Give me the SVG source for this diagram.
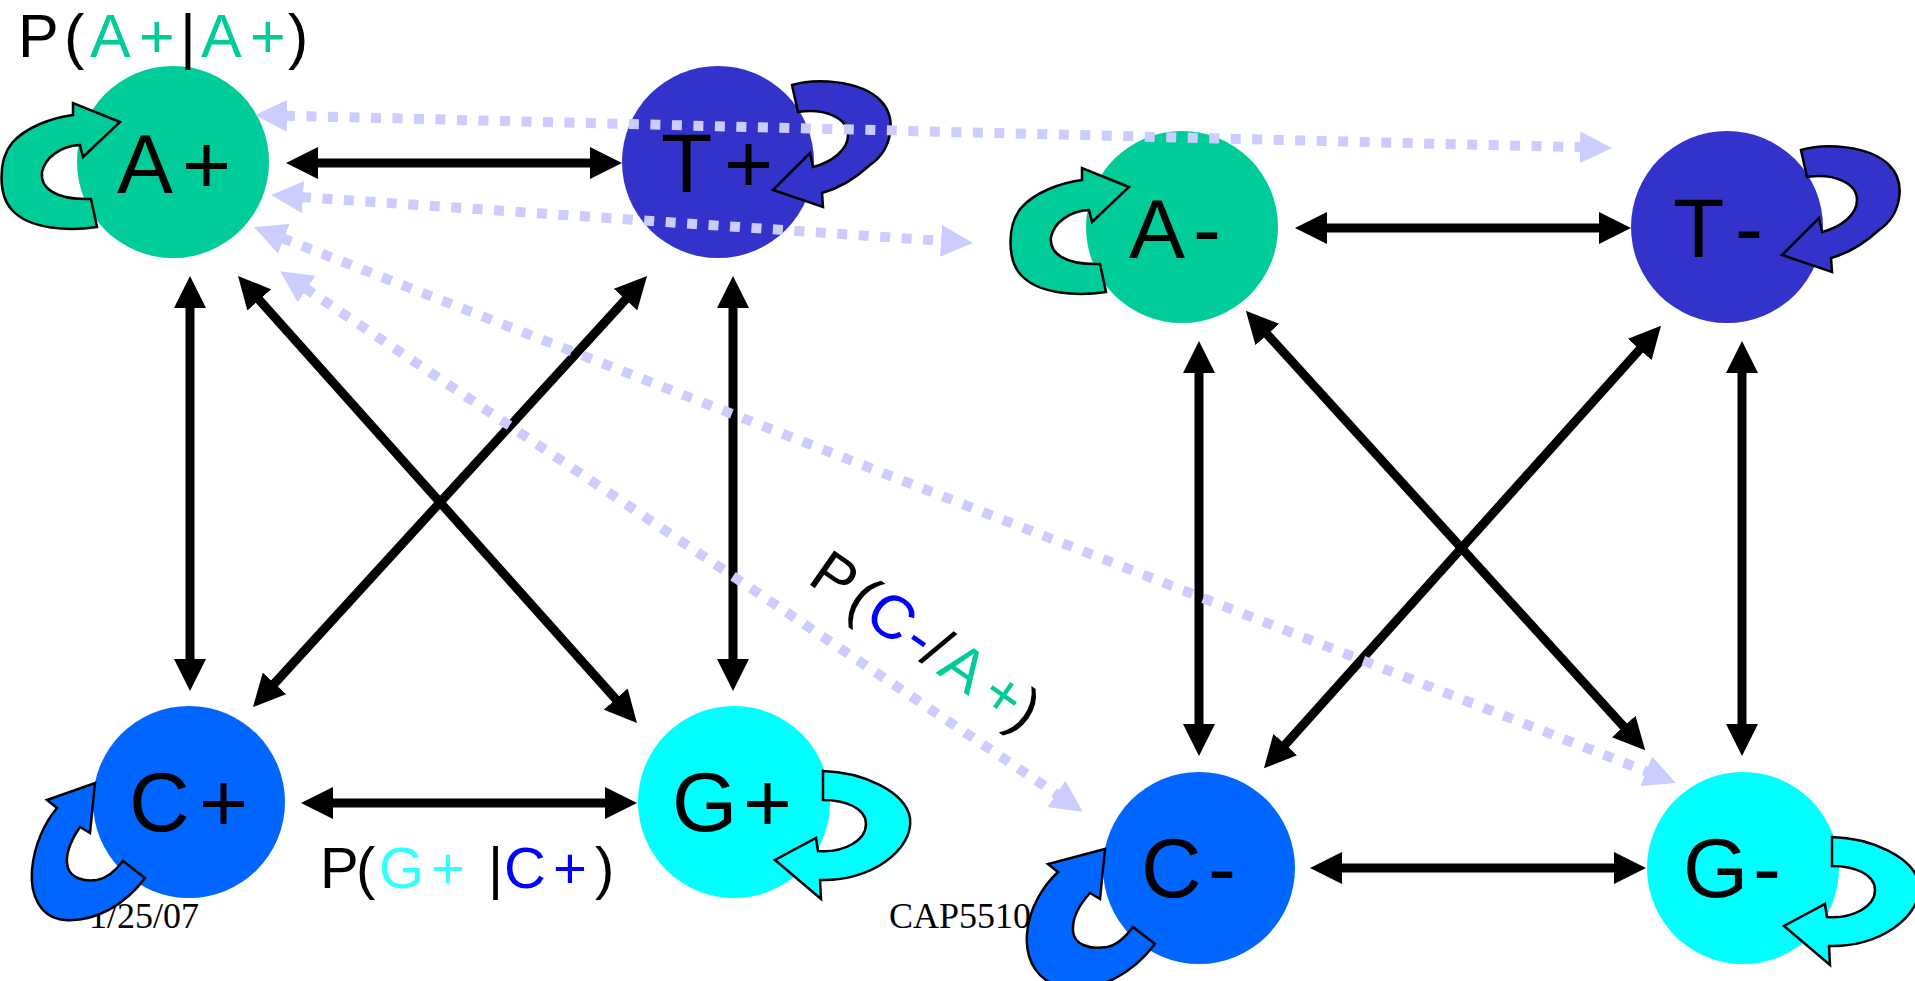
<svg xmlns="http://www.w3.org/2000/svg" width="1915" height="981" viewBox="0 0 1915 981">
<defs>
<style>
.lbl{font-family:"Liberation Sans",Arial,sans-serif;font-size:84px;fill:#000}
.plbl{font-family:"Liberation Sans",Arial,sans-serif;fill:#000}
.foot{font-family:"Liberation Serif","Times New Roman",serif;font-size:36px;fill:#000}
.loop{stroke:#000;stroke-width:2.5;stroke-linejoin:miter}
.blk{stroke:#000;stroke-width:9;fill:none;marker-start:url(#ab);marker-end:url(#ab)}
.dot{stroke:#ccccff;stroke-width:10;fill:none;stroke-dasharray:10 11.5;marker-start:url(#ad);marker-end:url(#ad)}
.cA{fill:#00cc99}.cT{fill:#3333cc}.cC{fill:#0066ff}.cG{fill:#00ffff}
</style>
<marker id="ab" markerUnits="userSpaceOnUse" markerWidth="32" markerHeight="32" viewBox="0 0 32 32" refX="2" refY="16" orient="auto-start-reverse"><path d="M0,0 L32,16 L0,32 Z" fill="#000"/></marker>
<marker id="ad" markerUnits="userSpaceOnUse" markerWidth="32" markerHeight="32" viewBox="0 0 32 32" refX="2" refY="16" orient="auto-start-reverse"><path d="M0,0 L32,16 L0,32 Z" fill="#ccccff"/></marker>
<path id="loopA" d="M97,227 C70,231 30,230 12,210 C-2,195 -2,160 12,143 C25,128 50,118 73,115 L73,103 L120,122 L83,157 L80,145 C60,146 45,158 42,172 C40,188 55,200 91,199 Z"/>
<path id="loopT" d="M792,85 C815,78 860,80 880,100 C898,118 892,150 870,165 C858,176 840,188 822,193 L823,207 L773,190 L810,153 L813,167 C832,162 848,150 848,135 C848,118 825,108 798,112 Z"/>
<path id="loopC" d="M145,878 C125,905 95,922 65,920 C40,918 30,895 32,870 C34,845 45,822 57,808 L47,800 L95,783 L90,833 L80,827 C72,838 66,852 67,863 C68,876 80,882 97,880 C108,878 117,869 123,861 Z"/>
<path id="loopCm" d="M145,878 C122,908 90,925 58,922 C28,918 15,895 17,868 C19,842 33,820 48,806 L38,798 L95,783 L90,833 L80,827 C70,838 62,852 63,865 C64,878 78,884 97,881 C108,879 117,869 123,861 Z"/>
<path id="loopG" d="M823,771 C860,772 905,790 910,818 C914,850 870,882 820,880 L821,899 L775,860 L816,838 L818,851 C845,853 866,840 866,824 C866,808 845,800 823,800 Z"/>
</defs>
<rect width="1915" height="981" fill="#fff"/>

<g id="footer">
<text class="foot" x="89" y="928">1/25/07</text>
<text class="foot" x="889" y="928">CAP5510</text>
</g>

<g id="node-A-plus">
<circle class="cA" cx="173" cy="162" r="96"/>
<use href="#loopA" class="loop cA"/>
<text class="lbl" x="117" y="193">A<tspan x="182">+</tspan></text>
</g>
<g id="node-T-plus">
<circle class="cT" cx="718" cy="162" r="96"/>
<use href="#loopT" class="loop cT"/>
<text class="lbl" x="661" y="192">T<tspan x="724">+</tspan></text>
</g>
<g id="node-C-plus">
<circle class="cC" cx="189" cy="802" r="96"/>
<use href="#loopC" class="loop cC"/>
<text class="lbl" x="129" y="831">C<tspan x="199">+</tspan></text>
</g>
<g id="node-G-plus">
<circle class="cG" cx="734" cy="802" r="96"/>
<use href="#loopG" class="loop cG"/>
<text class="lbl" x="672" y="831">G<tspan x="743">+</tspan></text>
</g>

<g id="node-A-minus" transform="translate(1009,65)">
<circle class="cA" cx="173" cy="162" r="96"/>
<use href="#loopA" class="loop cA"/>
<text class="lbl" x="120" y="193">A<tspan x="184">-</tspan></text>
</g>
<g id="node-T-minus" transform="translate(1009,65)">
<circle class="cT" cx="718" cy="162" r="96"/>
<use href="#loopT" class="loop cT"/>
<text class="lbl" x="664" y="192">T<tspan x="726">-</tspan></text>
</g>
<g id="node-C-minus" transform="translate(1010,66)">
<circle class="cC" cx="189" cy="802" r="96"/>
<use href="#loopCm" class="loop cC"/>
<text class="lbl" x="131" y="831">C<tspan x="198">-</tspan></text>
</g>
<g id="node-G-minus" transform="translate(1009,66)">
<circle class="cG" cx="734" cy="802" r="96"/>
<use href="#loopG" class="loop cG"/>
<text class="lbl" x="674" y="831">G<tspan x="744">-</tspan></text>
</g>

<g id="connectors">
<line class="blk" x1="316" y1="163" x2="592" y2="163"/>
<line class="blk" x1="331" y1="803" x2="607" y2="803"/>
<line class="blk" x1="190" y1="306" x2="190" y2="661"/>
<line class="blk" x1="733" y1="306" x2="733" y2="661"/>
<line class="blk" x1="258" y1="298.4" x2="617" y2="700.6"/>
<line class="blk" x1="626.8" y1="298.1" x2="273.2" y2="684.9"/>
<line class="blk" x1="1325" y1="228" x2="1601" y2="228"/>
<line class="blk" x1="1340" y1="868" x2="1616" y2="868"/>
<line class="blk" x1="1199" y1="371" x2="1199" y2="726"/>
<line class="blk" x1="1742" y1="371" x2="1742" y2="726"/>
<line class="blk" x1="1266" y1="333" x2="1625" y2="728"/>
<line class="blk" x1="1641" y1="348" x2="1284" y2="746"/>
<line class="dot" x1="285" y1="115.7" x2="1582" y2="147.3"/>
<line class="dot" x1="301" y1="197" x2="943" y2="241"/>
<line class="dot" x1="282" y1="238" x2="1648" y2="772"/>
<line class="dot" x1="305" y1="288" x2="1058" y2="795"/>
</g>

<g id="label-AA">
<text class="plbl" font-size="61" y="57"><tspan x="18">P</tspan><tspan x="64">(</tspan><tspan x="90" fill="#00cc99">A</tspan><tspan x="139" fill="#00cc99">+</tspan><tspan x="180">|</tspan><tspan x="201" fill="#00cc99">A</tspan><tspan x="250" fill="#00cc99">+</tspan><tspan x="288">)</tspan></text>
</g>
<g id="label-GC">
<text class="plbl" font-size="58" y="888"><tspan x="320">P</tspan><tspan x="356">(</tspan><tspan x="379" fill="#33ffff">G</tspan><tspan x="431" fill="#33ffff">+</tspan><tspan x="488">|</tspan><tspan x="504" fill="#0000ff">C</tspan><tspan x="553" fill="#0000ff">+</tspan><tspan x="595">)</tspan></text>
</g>
<g id="label-CA">
<text class="plbl" font-size="61" transform="translate(806,582) rotate(35)"><tspan x="0">P</tspan><tspan x="46">(</tspan><tspan x="68" fill="#0000ff">C</tspan><tspan x="116" fill="#0000ff">-</tspan><tspan x="137">/</tspan><tspan x="158" fill="#00cc99">A</tspan><tspan x="209" fill="#00cc99">+</tspan><tspan x="244">)</tspan></text>
</g>
</svg>
